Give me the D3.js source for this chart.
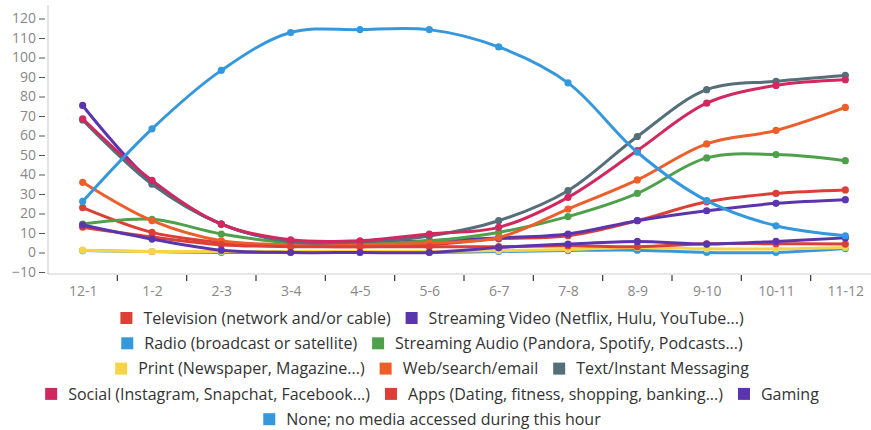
<!DOCTYPE html>
<html>
<head>
<meta charset="utf-8">
<script src="https://cdn.jsdelivr.net/npm/d3@7"></script>
<style>
  html, body { margin: 0; padding: 0; background: #fff; }
  svg { display: block; }
  text { font-family: "Open Sans", "Liberation Sans", sans-serif; }
</style>
</head>
<body>
<svg id="chart" width="871" height="430"></svg>
<script>
// ---------- DATA ----------
const categories = ["12-1","1-2","2-3","3-4","4-5","5-6","6-7","7-8","8-9","9-10","10-11","11-12"];
const yTickValues = [-10,0,10,20,30,40,50,60,70,80,90,100,110,120];

const seriesNames = [
  "Television (network and/or cable)",
  "Streaming Video (Netflix, Hulu, YouTube...)",
  "Radio (broadcast or satellite)",
  "Streaming Audio (Pandora, Spotify, Podcasts...)",
  "Print (Newspaper, Magazine...)",
  "Web/search/email",
  "Text/Instant Messaging",
  "Social (Instagram, Snapchat, Facebook...)",
  "Apps (Dating, fitness, shopping, banking...)",
  "Gaming",
  "None; no media accessed during this hour"
];
const seriesColors = ["#dc3f36","#5b35ad","#3598dc","#4ea14a","#f5d547","#ec5f2a","#546e7a","#d3275f","#dc3f36","#5b35ad","#3598dc"];

const television     = [23, 10.3, 5.1, 3.5, 3, 4, 7, 8.6, 16.3, 26, 30.3, 32.1];
const streamingVideo = [75.4, 36, 14.6, 5.5, 5, 6, 7.5, 9.5, 16.3, 21.4, 25.2, 27.1];
const radio          = [1, 0.5, 0, 0, 0, 0, 0.5, 1, 1.2, 0, 0, 2];
const streamingAudio = [14.6, 17, 9.5, 5, 4.5, 6, 10.3, 18.4, 30.3, 48.5, 50.2, 47.1];
const print          = [1.2, 0.5, 0.5, 0.5, 0.5, 0.5, 1, 1.5, 2.6, 1.9, 1.9, 2.6];
const web            = [36, 16.3, 6, 4, 4, 5, 7.7, 22.3, 37.2, 55.7, 62.6, 74.4];
const textMessaging  = [68, 35, 14.6, 5.5, 5.5, 8.5, 16.3, 31.7, 59.5, 83.5, 87.8, 90.8];
const social         = [68.6, 37, 14.6, 6.5, 6, 9.5, 12.9, 28.3, 52.3, 76.6, 85.7, 88.6];
const apps           = [13, 8, 4, 3, 3, 3, 3, 3.5, 3, 4.5, 4.5, 4.3];
const gaming         = [14.1, 6.9, 1.2, 0, 0, 0, 2.5, 4.3, 5.7, 4.3, 5.7, 7.5];
const none           = [26.2, 63.4, 93.4, 112.8, 114.3, 114.3, 105.4, 87, 51.4, 26.6, 13.7, 8.6];

const seriesValues = [television, streamingVideo, radio, streamingAudio, print, web, textMessaging, social, apps, gaming, none];

// legend rows (indices into series)
const legendRows = [[0,1],[2,3],[4,5,6],[7,8,9],[10]];

// ---------- CHART ----------
const svg = d3.select("#chart");
const axisX0 = 48, axisYBottom = 274;

const x = d3.scalePoint().domain(categories).range([48, 880]).padding(0.5);
const y = d3.scaleLinear().domain([-10, 120]).range([272, 18.5]);

// y axis
const yAxis = d3.axisLeft(y).tickValues(yTickValues).tickSize(6).tickPadding(3);
const gy = svg.append("g").attr("transform", `translate(45,0)`).call(yAxis);
gy.select(".domain").remove();
gy.selectAll(".tick line").attr("stroke", "#555");
gy.selectAll(".tick text").attr("fill", "#888").style("font-size", "14px");

// axis lines
svg.append("line").attr("x1", axisX0).attr("x2", axisX0).attr("y1", 5).attr("y2", axisYBottom)
  .attr("stroke", "#d0d0d0").attr("stroke-width", 1.2);
svg.append("line").attr("x1", axisX0).attr("x2", 871).attr("y1", axisYBottom).attr("y2", axisYBottom)
  .attr("stroke", "#d0d0d0").attr("stroke-width", 1.2);

// x axis labels
const xAxis = d3.axisBottom(x).tickSize(0).tickPadding(12);
const gx = svg.append("g").attr("transform", `translate(0,${axisYBottom})`).call(xAxis);
gx.select(".domain").remove();
gx.selectAll(".tick text").attr("fill", "#888").style("font-size", "14px");

// boundary ticks between categories
const step = x.step();
svg.append("g").selectAll("line")
  .data(categories.slice(0, -1))
  .join("line")
  .attr("x1", d => x(d) + step / 2).attr("x2", d => x(d) + step / 2)
  .attr("y1", axisYBottom + 1).attr("y2", axisYBottom + 7)
  .attr("stroke", "#444").attr("stroke-width", 1.3);

// lines
const line = d3.line()
  .x((d, i) => x(categories[i]))
  .y(d => y(d))
  .curve(d3.curveCatmullRom.alpha(0.5));

const gSeries = svg.append("g");
seriesValues.forEach((vals, si) => {
  const g = gSeries.append("g");
  g.append("path").datum(vals)
    .attr("d", line)
    .attr("fill", "none")
    .attr("stroke", seriesColors[si])
    .attr("stroke-width", 3)
    .attr("stroke-linejoin", "round")
    .attr("stroke-linecap", "round");
  g.selectAll("circle").data(vals).join("circle")
    .attr("cx", (d, i) => x(categories[i]))
    .attr("cy", d => y(d))
    .attr("r", 3.6)
    .attr("fill", seriesColors[si]);
});

// legend
const legendCx = 432, rowY0 = 318, rowH = 25.3, sw = 12, swGap = 11, itemGap = 15;
const gLegend = svg.append("g");
legendRows.forEach((row, ri) => {
  const gRow = gLegend.append("g");
  let cursor = 0;
  row.forEach((si, k) => {
    const it = gRow.append("g").attr("transform", `translate(${cursor},0)`);
    it.append("rect").attr("x", 0).attr("y", -6).attr("width", sw).attr("height", sw)
      .attr("fill", seriesColors[si]);
    const t = it.append("text").attr("x", sw + swGap).attr("y", 0).attr("dy", "0.35em")
      .attr("fill", "#333").style("font-size", "16px").text(seriesNames[si]);
    const w = t.node().getComputedTextLength();
    cursor += sw + swGap + w + (k < row.length - 1 ? itemGap : 0);
  });
  gRow.attr("transform", `translate(${legendCx - cursor / 2},${rowY0 + ri * rowH})`);
});
</script>
</body>
</html>
